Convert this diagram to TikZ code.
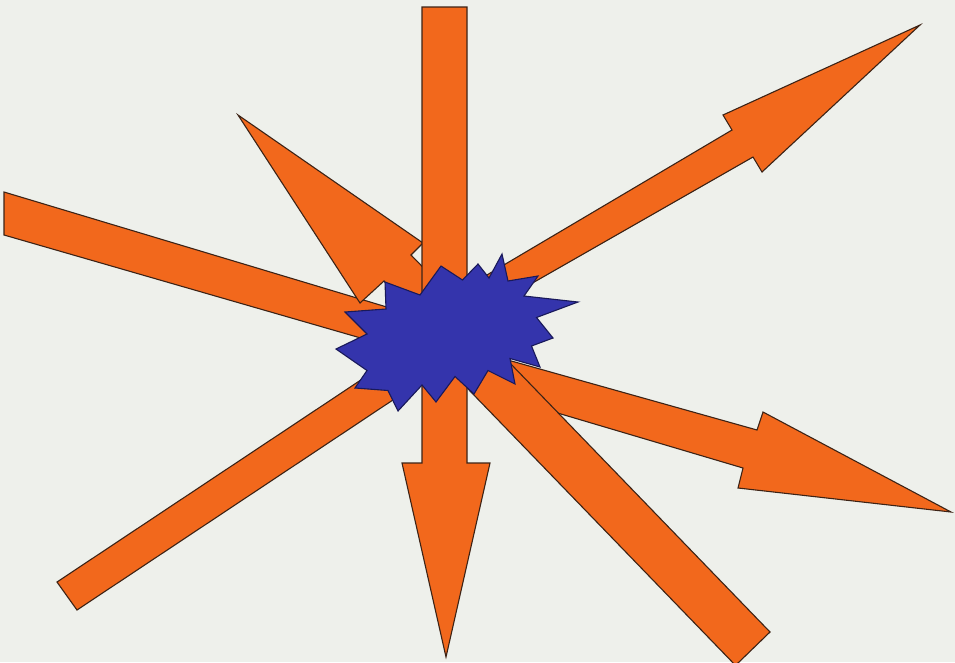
\documentclass[tikz,border=0pt]{standalone}
\usetikzlibrary{shapes.geometric}
\definecolor{bgcol}{RGB}{238,240,235}
\definecolor{arrowfill}{RGB}{242,104,28}
\definecolor{arrowline}{RGB}{60,35,22}
\definecolor{burstfill}{RGB}{52,52,172}
\definecolor{burstline}{RGB}{25,25,90}
\tikzset{
  orangeshape/.style={fill=arrowfill, draw=arrowline, line width=1.1pt, line join=miter},
  burstshape/.style={fill=burstfill, draw=burstline, line width=1.1pt, line join=miter}
}
\begin{document}
\begin{tikzpicture}[x=1pt,y=-1pt]
\useasboundingbox (0,0) rectangle (955,662);
\fill[bgcol] (0,0) rectangle (955,662);
\begin{scope}
\clip (0,0) rectangle (955,662);
% left bar
\draw[orangeshape] (4,192) -- (440,323) -- (430,358) -- (4,235) -- cycle;
% lower-left bar
\draw[orangeshape] (57,582) -- (415,344) -- (435,372) -- (77,610) -- cycle;
% upper-left arrow
\draw[orangeshape] (238,115) -- (423,243) -- (411,255) -- (455,300) -- (428,328) -- (384,281) -- (360,303) -- cycle;
% right arrow
\draw[orangeshape] (490,355) -- (757,430) -- (763,412) -- (951,512) -- (738,488) -- (743,468) -- (480,390) -- cycle;
% lower-right bar
\draw[orangeshape] (478,330) -- (770,632) -- (735.5,665.4) -- (443.5,363.6) -- cycle;
% upper-right arrow
\draw[orangeshape] (470,285) -- (732,130) -- (723,115) -- (920,25) -- (762,172) -- (753,157) -- (480,313) -- cycle;
% vertical down arrow
\draw[orangeshape] (422,7) -- (467,7) -- (467,463) -- (490,463) -- (446,657) -- (402,463) -- (422,463) -- cycle;
% starburst
\draw[burstshape] (502,254) -- (508,281) -- (538,276) -- (524,296) -- (578,302) -- (536.5,317.5)
  -- (553,338) -- (531.5,346) -- (540,367) -- (510,358.5) -- (515,384) -- (488,370.5)
  -- (474,394) -- (455,376.5) -- (436,402) -- (422,385) -- (398,411) -- (388,390.5)
  -- (355,388) -- (367,370.5) -- (336,349) -- (367,334) -- (345,312) -- (386,309)
  -- (385,282) -- (420,295) -- (441,266) -- (462.5,280) -- (478,264) -- (489,278) -- cycle;
\end{scope}
\end{tikzpicture}
\end{document}
